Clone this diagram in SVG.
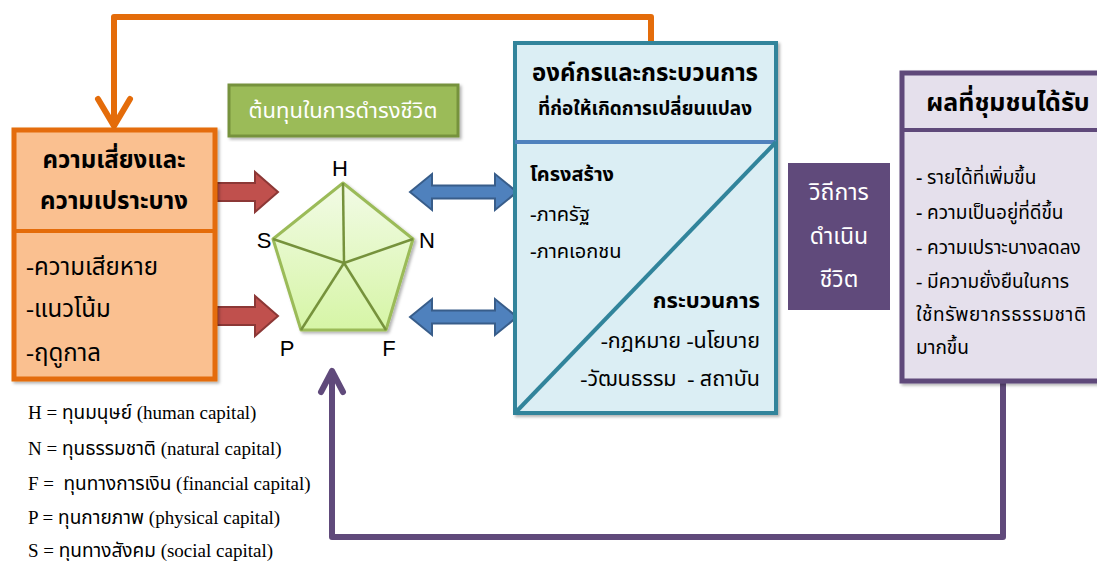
<svg xmlns="http://www.w3.org/2000/svg" width="1097" height="561" viewBox="0 0 1097 561">
<defs>
<style>
.th{font-family:"Liberation Serif","Noto Sans Thai","Noto Serif Thai",serif;fill:#000}
.thb{font-family:"Liberation Serif","Noto Sans Thai","Noto Serif Thai",serif;font-weight:bold;fill:#000}
.wh{fill:#fff}
.lat{font-family:"Liberation Sans",Arial,sans-serif;font-size:22px;fill:#000}
.red{fill:#C0504D;stroke:#8C3836;stroke-width:2}
.blue{fill:#4F81BD;stroke:#385D8A;stroke-width:2}
.orange{fill:none;stroke:#E46C0A;stroke-width:6;stroke-linecap:round;stroke-linejoin:round}
.purple{fill:none;stroke:#604A7B;stroke-width:6;stroke-linecap:round;stroke-linejoin:round}
</style>
<linearGradient id="pg" x1="0" y1="0" x2="0" y2="1">
<stop offset="0" stop-color="#F2FBE6"/>
<stop offset="1" stop-color="#D6F5A6"/>
</linearGradient>
<filter id="sh" x="-5%" y="-5%" width="115%" height="115%">
<feDropShadow dx="2" dy="2" stdDeviation="1.5" flood-color="#000" flood-opacity="0.3"/>
</filter>
</defs>
<rect width="1097" height="561" fill="#fff"/>

<g id="connectors">
<path class="orange" d="M651,42 L651,17 L114,17 L114,125"/>
<polyline class="orange" points="98,99 114,126 130,99"/>
<path class="purple" d="M1003,382 L1003,537 L332,537 L332,372"/>
<polyline class="purple" points="321,392 332,371 343,392"/>
<path class="red" d="M217,183 L255,183 L255,172 L278,192 L255,212 L255,201 L217,201 Z"/>
<path class="red" d="M217,307 L255,307 L255,296 L278,316 L255,336 L255,325 L217,325 Z"/>
<path class="blue" d="M410,192 L432,174 L432,185.5 L495,185.5 L495,174 L517,192 L495,210 L495,198.5 L432,198.5 L432,210 Z"/>
<path class="blue" d="M410,317 L432,299 L432,310.5 L495,310.5 L495,299 L517,317 L495,335 L495,323.5 L432,323.5 L432,335 Z"/>
</g>

<g id="risk">
<rect x="14" y="130" width="201" height="249" fill="#FAC090" stroke="#E46C0A" stroke-width="5" filter="url(#sh)"/>
<line x1="14" y1="231" x2="215" y2="231" stroke="#E46C0A" stroke-width="4"/>
<text class="thb" x="114" y="168" font-size="24" text-anchor="middle">ความเสี่ยงและ</text>
<text class="thb" x="114" y="209" font-size="24" text-anchor="middle">ความเปราะบาง</text>
<text class="th" x="26" y="275" font-size="24">-ความเสียหาย</text>
<text class="th" x="26" y="317" font-size="24">-แนวโน้ม</text>
<text class="th" x="26" y="361" font-size="24">-ฤดูกาล</text>
</g>

<g id="capital-label">
<rect x="229" y="85" width="229" height="51" fill="#9BBB59" stroke="#76923C" stroke-width="3" filter="url(#sh)"/>
<text class="th wh" x="343" y="118" font-size="22" text-anchor="middle">ต้นทุนในการดำรงชีวิต</text>
</g>

<g id="pentagon">
<polygon points="343,183 413,239 386,330 301,330 273,239" fill="url(#pg)" stroke="#9BBB59" stroke-width="3" stroke-linejoin="round" filter="url(#sh)"/>
<g stroke="#76923C" stroke-width="2.5">
<line x1="344" y1="263" x2="343" y2="183"/>
<line x1="344" y1="263" x2="413" y2="239"/>
<line x1="344" y1="263" x2="386" y2="330"/>
<line x1="344" y1="263" x2="301" y2="330"/>
<line x1="344" y1="263" x2="273" y2="239"/>
</g>
<text class="lat" x="340" y="176" text-anchor="middle">H</text>
<text class="lat" x="264" y="248" text-anchor="middle">S</text>
<text class="lat" x="427" y="248" text-anchor="middle">N</text>
<text class="lat" x="287" y="356" text-anchor="middle">P</text>
<text class="lat" x="389" y="356" text-anchor="middle">F</text>
</g>

<g id="organisation">
<rect x="515" y="43" width="261" height="370" fill="#DBEEF4" stroke="#31849B" stroke-width="4" filter="url(#sh)"/>
<line x1="515" y1="142" x2="776" y2="142" stroke="#4F81BD" stroke-width="4"/>
<line x1="515" y1="413" x2="776" y2="142" stroke="#31849B" stroke-width="4"/>
<text class="thb" x="645" y="81" font-size="24" text-anchor="middle">องค์กรและกระบวนการ</text>
<text class="thb" x="645" y="115" font-size="19" text-anchor="middle">ที่ก่อให้เกิดการเปลี่ยนแปลง</text>
<text class="thb" x="530" y="181" font-size="20">โครงสร้าง</text>
<text class="th" x="530" y="221" font-size="20">-ภาครัฐ</text>
<text class="th" x="530" y="258" font-size="20">-ภาคเอกชน</text>
<text class="thb" x="760" y="308" font-size="22" text-anchor="end">กระบวนการ</text>
<text class="th" x="760" y="348" font-size="21.5" text-anchor="end" xml:space="preserve">-กฎหมาย -นโยบาย</text>
<text class="th" x="760" y="386" font-size="21.5" text-anchor="end" xml:space="preserve">-วัฒนธรรม  - สถาบัน</text>
</g>

<g id="livelihood">
<rect x="788" y="163" width="102" height="147" fill="#604A7B"/>
<text class="th wh" x="839" y="200" font-size="23" text-anchor="middle">วิถีการ</text>
<text class="th wh" x="839" y="244" font-size="23" text-anchor="middle">ดำเนิน</text>
<text class="th wh" x="839" y="287" font-size="23" text-anchor="middle">ชีวิต</text>
</g>

<g id="results">
<rect x="902" y="73" width="210" height="308" fill="#E5E0EC" stroke="#5F497A" stroke-width="5" filter="url(#sh)"/>
<line x1="902" y1="130" x2="1100" y2="130" stroke="#5F497A" stroke-width="4"/>
<text class="thb" x="1008" y="111" font-size="25" text-anchor="middle">ผลที่ชุมชนได้รับ</text>
<text class="th" x="916" y="184" font-size="19"><tspan font-weight="bold">-</tspan> รายได้ที่เพิ่มขึ้น</text>
<text class="th" x="916" y="219" font-size="19"><tspan font-weight="bold">-</tspan> ความเป็นอยู่ที่ดีขึ้น</text>
<text class="th" x="916" y="254" font-size="19">- ความเปราะบางลดลง</text>
<text class="th" x="916" y="288" font-size="19">- มีความยั่งยืนในการ</text>
<text class="th" x="916" y="321" font-size="19" textLength="170" lengthAdjust="spacing">ใช้ทรัพยากรธรรมชาติ</text>
<text class="th" x="916" y="354" font-size="19">มากขึ้น</text>
</g>

<g id="legend">
<text class="th" x="28" y="419" font-size="19">H = ทุนมนุษย์ (human capital)</text>
<text class="th" x="28" y="455" font-size="19">N = ทุนธรรมชาติ (natural capital)</text>
<text class="th" x="28" y="490" font-size="19" xml:space="preserve">F =  ทุนทางการเงิน (financial capital)</text>
<text class="th" x="28" y="524" font-size="19">P = ทุนกายภาพ (physical capital)</text>
<text class="th" x="28" y="557" font-size="19">S = ทุนทางสังคม (social capital)</text>
</g>
</svg>
